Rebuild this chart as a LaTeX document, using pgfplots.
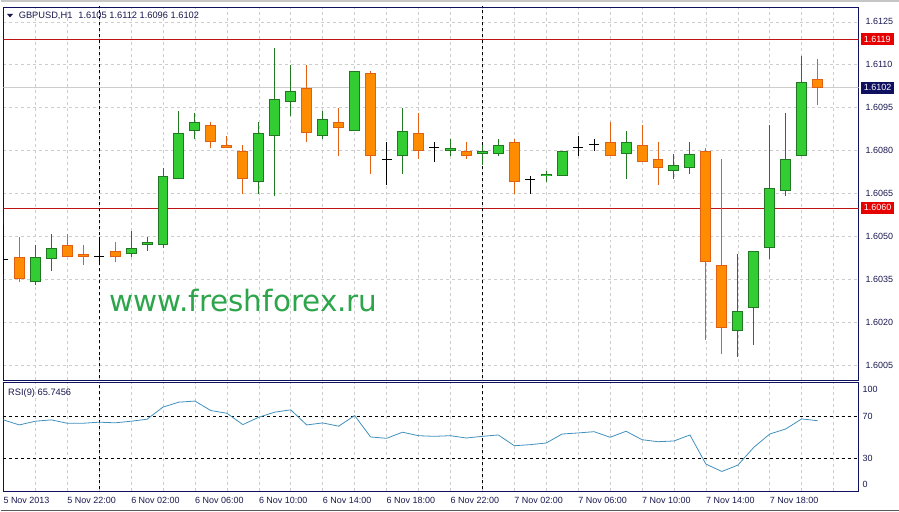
\documentclass[border=0pt]{standalone}
\usepackage{fontspec}
\setmainfont{Liberation Sans}
\newfontfamily\wmfont{DejaVu Sans}
\usepackage{pgfplots}
\usepackage{pgfplotstable}
\pgfplotsset{compat=1.18}

\definecolor{frame}{RGB}{16,16,96}
\definecolor{txt}{RGB}{24,24,80}
\definecolor{gridc}{RGB}{205,205,205}
\definecolor{bullfill}{RGB}{50,205,50}
\definecolor{bullline}{RGB}{34,120,34}
\definecolor{bearfill}{RGB}{255,140,0}
\definecolor{bearline}{RGB}{226,96,20}
\definecolor{lvl}{RGB}{190,20,20}
\definecolor{lvlbox}{RGB}{230,0,0}
\definecolor{rsic}{RGB}{65,145,190}
\definecolor{wm}{RGB}{45,165,75}

% GBPUSD H1, x = hours since 5 Nov 2013 18:00
\pgfplotstableread{
i O H L C
2 1.6034 1.6047 1.6033 1.6043
3 1.6042 1.6051 1.6038 1.6046
8 1.6044 1.6052 1.6043 1.6046
9 1.6047 1.6050 1.6045 1.6048
10 1.6047 1.6074 1.6046 1.6071
11 1.6070 1.6094 1.6070 1.6086
12 1.6087 1.6093 1.6084 1.6090
16 1.6069 1.6090 1.6065 1.6086
17 1.6085 1.6116 1.6064 1.6098
18 1.6097 1.6110 1.6092 1.6101
20 1.6085 1.6094 1.6084 1.6091
22 1.6087 1.6108 1.6087 1.6108
25 1.6078 1.6095 1.6072 1.6087
28 1.6080 1.6084 1.6078 1.6081
30 1.6079 1.6082 1.6075 1.6080
31 1.6079 1.6084 1.6078 1.6082
34 1.6071 1.6073 1.6069 1.6072
35 1.6071 1.6080 1.6071 1.6080
39 1.6079 1.6087 1.6070 1.6083
42 1.6073 1.6079 1.6070 1.6075
43 1.6074 1.6083 1.6072 1.6079
46 1.6017 1.6044 1.6008 1.6024
47 1.6025 1.6045 1.6012 1.6045
48 1.6046 1.6089 1.6042 1.6067
49 1.6066 1.6093 1.6064 1.6077
50 1.6078 1.6113 1.6078 1.6104
}\bull

\pgfplotstableread{
i O H L C
1 1.6043 1.6050 1.6034 1.6035
4 1.6047 1.6051 1.6043 1.6043
5 1.6044 1.6047 1.6040 1.6043
7 1.6045 1.6048 1.6041 1.6043
13 1.6089 1.6090 1.6081 1.6083
14 1.6082 1.6085 1.6081 1.6081
15 1.6080 1.6082 1.6065 1.6070
19 1.6102 1.6110 1.6083 1.6086
21 1.6090 1.6095 1.6078 1.6088
23 1.6107 1.6108 1.6072 1.6078
26 1.6086 1.6093 1.6077 1.6080
29 1.6080 1.6083 1.6077 1.6078
32 1.6083 1.6084 1.6065 1.6069
38 1.6083 1.6090 1.6078 1.6078
40 1.6082 1.6089 1.6076 1.6076
41 1.6077 1.6083 1.6068 1.6074
44 1.6080 1.6081 1.6014 1.6041
45 1.6040 1.6077 1.6009 1.6018
51 1.6105 1.6112 1.6096 1.6102
}\bear

\pgfplotstableread{
i O H L C
0 1.6042 1.6054 1.6037 1.6042
6 1.6043 1.6050 1.6041 1.6043
24 1.6077 1.6083 1.6068 1.6077
27 1.6081 1.6083 1.6076 1.6081
33 1.6070 1.6071 1.6065 1.6070
36 1.6081 1.6085 1.6078 1.6081
37 1.6082 1.6084 1.6080 1.6082
}\doji

\pgfplotstableread{
i r
0 66.5
1 61.7
2 65.2
3 66.5
4 63.3
5 63.3
6 64.3
7 63.7
8 65.2
9 67.1
10 78.6
11 83.3
12 84.3
13 75.3
14 72.8
15 62.0
16 69.0
17 73.8
18 76.0
19 61.7
20 63.6
21 60.5
22 70.6
23 50.3
24 49.0
25 54.8
26 51.5
27 50.9
28 51.5
29 49.3
30 50.9
31 52.2
32 42.0
33 43.0
34 44.6
35 53.1
36 54.1
37 55.3
38 50.0
39 55.7
40 47.7
41 45.8
42 46.5
43 52.2
44 24.6
45 17.6
46 23.6
47 40.5
48 53.1
49 57.9
50 67.4
51 65.7
}\rsi

\pgfplotsset{
  mtframe/.style={
    scale only axis, anchor=south west,
    width=857pt, xmin=0, xmax=53.5625,
    axis line style={draw=frame, line width=0.8pt},
    major tick length=0pt, minor tick length=0pt,
    grid style={draw=gridc, dash pattern=on 3pt off 3pt, line width=0.6pt},
    minor grid style={draw=gridc, dash pattern=on 3pt off 3pt, line width=0.6pt},
    ticklabel style={font=\fontsize{9}{10}\selectfont, text=txt},
    ytick pos=right, yticklabel pos=right,
    clip marker paths=true,
  },
}

\begin{document}
\begin{tikzpicture}
\fill[white] (0,0) rectangle (899pt,513pt);
\fill[gray!45] (0,510.5pt) rectangle (899pt,513pt);
\draw[gray!70!black, line width=1pt] (0,1pt) -- (899pt,1pt);

% price window
\begin{axis}[mtframe,
  at={(2pt,132pt)}, height=374pt,
  ymin=1.59998, ymax=1.61302,
  xtick={0,2,...,52}, xticklabels={},
  ytick={1.6005,1.602,1.6035,1.605,1.6065,1.608,1.6095,1.611,1.6125},
  yticklabels={1.6005,1.6020,1.6035,1.6050,1.6065,1.6080,1.6095,1.6110,1.6125},
  xmajorgrids, ymajorgrids,
  yticklabel style={anchor=west, xshift=3.5pt},
  extra y ticks={1.6119,1.606},
  extra y tick labels={1.6119,1.6060},
  extra y tick style={grid=none, yticklabel style={fill=lvlbox, text=white,
      inner xsep=3pt, inner ysep=2pt, text height=7pt, text depth=1pt, xshift=-1.5pt}},
]
\addplot[gridc, line width=0.8pt] coordinates {(0,1.6102) (54,1.6102)};
\addplot[lvl, line width=0.8pt] coordinates {(0,1.6119) (54,1.6119)};
\addplot[lvl, line width=0.8pt] coordinates {(0,1.606) (54,1.606)};
\addplot[black, line width=0.8pt, dash pattern=on 3pt off 3pt] coordinates {(6,1.59) (6,1.62)};
\addplot[black, line width=0.8pt, dash pattern=on 3pt off 3pt] coordinates {(30,1.59) (30,1.62)};

% wicks
\addplot[bullline, line width=1pt, quiver={u=0, v=\thisrow{H}-\thisrow{L}}] table[x=i, y=L] {\bull};
\addplot[bearline, line width=1pt, quiver={u=0, v=\thisrow{H}-\thisrow{L}}] table[x=i, y=L] {\bear};
\addplot[black, line width=1pt, quiver={u=0, v=\thisrow{H}-\thisrow{L}}] table[x=i, y=L] {\doji};
% bodies
\addplot[bullline, line width=11pt, quiver={u=0, v=\thisrow{C}-\thisrow{O}}] table[x=i, y=O] {\bull};
\addplot[bullfill, line width=9pt, shorten <=1pt, shorten >=1pt, quiver={u=0, v=\thisrow{C}-\thisrow{O}}] table[x=i, y=O] {\bull};
\addplot[bearline, line width=11pt, quiver={u=0, v=\thisrow{C}-\thisrow{O}}] table[x=i, y=O] {\bear};
\addplot[bearfill, line width=9pt, shorten <=1pt, shorten >=1pt, quiver={u=0, v=\thisrow{C}-\thisrow{O}}] table[x=i, y=O] {\bear};
\addplot[black, only marks, mark=-, mark size=5pt, mark options={line width=1pt}] table[x=i, y=O] {\doji};

\coordinate (bid) at (axis cs:53.5625,1.6102);
\end{axis}

\node[fill=frame, text=white, anchor=west, inner xsep=3pt, inner ysep=2pt,
  text height=7pt, text depth=1pt, font=\fontsize{9}{10}\selectfont, xshift=2pt] at (bid) {1.6102};

\fill[txt] (5.7pt,499pt) -- (11.7pt,499pt) -- (8.7pt,495.5pt) -- cycle;
\node[anchor=base west, inner sep=0pt, text=txt, font=\fontsize{9.3}{11}\selectfont]
  at (17.3pt,494.5pt) {GBPUSD,H1\hspace{6pt}1.6105 1.6112 1.6096 1.6102};

\node[anchor=base west, inner sep=0pt, text=wm, font=\wmfont\fontsize{29.5}{32}\selectfont]
  at (108.5pt,201.3pt) {www.freshforex.ru};

% RSI window
\begin{axis}[mtframe,
  at={(2pt,21pt)}, height=108.5pt,
  ymin=-0.9, ymax=101.7,
  xtick={0,4,...,48},
  xticklabels={5 Nov 2013, 5 Nov 22:00, 6 Nov 02:00, 6 Nov 06:00, 6 Nov 10:00, 6 Nov 14:00,
    6 Nov 18:00, 6 Nov 22:00, 7 Nov 02:00, 7 Nov 06:00, 7 Nov 10:00, 7 Nov 14:00, 7 Nov 18:00},
  minor xtick={2,6,10,14,18,22,26,30,34,38,42,46,50,52},
  xmajorgrids, xminorgrids,
  xtick pos=bottom,
  ytick={4.9,30,70,95.4}, yticklabels={0,30,70,100},
  xticklabel style={anchor=north west, inner sep=0pt, yshift=-6.5pt},
  yticklabel style={anchor=west, xshift=0.5pt},
]
\addplot[black, line width=0.8pt, dash pattern=on 3pt off 3pt] coordinates {(0,70) (54,70)};
\addplot[black, line width=0.8pt, dash pattern=on 3pt off 3pt] coordinates {(0,30) (54,30)};
\addplot[black, line width=0.8pt, dash pattern=on 3pt off 3pt] coordinates {(6,-5) (6,110)};
\addplot[black, line width=0.8pt, dash pattern=on 3pt off 3pt] coordinates {(30,-5) (30,110)};
\addplot[rsic, line width=0.8pt] table[x=i, y=r] {\rsi};
\end{axis}

\node[anchor=base west, inner sep=0pt, text=txt, font=\fontsize{9.3}{11}\selectfont]
  at (6.7pt,116.3pt) {RSI(9) 65.7456};
\end{tikzpicture}
\end{document}
